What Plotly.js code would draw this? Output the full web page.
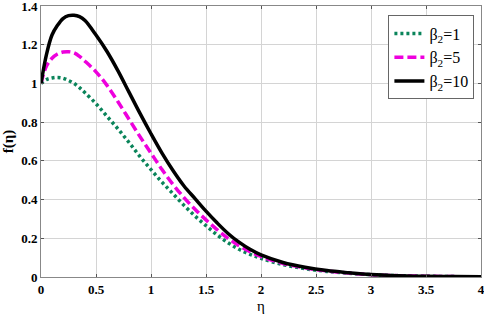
<!DOCTYPE html>
<html>
<head>
<meta charset="utf-8">
<script src="https://cdn.plot.ly/plotly-3.0.1.min.js"></script>
<style>html,body{margin:0;padding:0;background:#fff;}#chart{width:484px;height:318px;}</style>
</head>
<body>
<div id="chart"></div>
<script>
const eta = [0, 0.05, 0.1, 0.15, 0.2, 0.25, 0.3, 0.35, 0.4, 0.5, 0.6, 0.7, 0.8, 0.9, 1.0, 1.1, 1.2, 1.3, 1.4, 1.5, 1.6, 1.7, 1.8, 1.9, 2.0, 2.2, 2.4, 2.6, 2.8, 3.0, 3.25, 3.5, 3.75, 4.0];
const f_b1 = [1.0, 1.02, 1.028, 1.031, 1.027, 1.015, 1.0, 0.978, 0.952, 0.895, 0.83, 0.765, 0.695, 0.622, 0.555, 0.49, 0.43, 0.37, 0.315, 0.265, 0.218, 0.177, 0.143, 0.117, 0.096, 0.064, 0.043, 0.029, 0.019, 0.012, 0.007, 0.004, 0.002, 0.001];
const f_b5 = [1.0, 1.09, 1.13, 1.152, 1.162, 1.164, 1.158, 1.14, 1.115, 1.06, 0.99, 0.905, 0.815, 0.725, 0.64, 0.555, 0.478, 0.41, 0.35, 0.295, 0.245, 0.2, 0.162, 0.131, 0.106, 0.07, 0.047, 0.031, 0.02, 0.012, 0.007, 0.004, 0.002, 0.001];
const f_b10 = [1.0, 1.15, 1.25, 1.30, 1.335, 1.35, 1.352, 1.345, 1.325, 1.25, 1.165, 1.065, 0.955, 0.845, 0.74, 0.64, 0.55, 0.47, 0.405, 0.34, 0.28, 0.225, 0.18, 0.143, 0.114, 0.075, 0.05, 0.033, 0.022, 0.013, 0.007, 0.004, 0.002, 0.001];
const names = ['β<sub>2</sub>=1', 'β<sub>2</sub>=5', 'β<sub>2</sub>=10'];
const xTicks = [0, 0.5, 1, 1.5, 2, 2.5, 3, 3.5, 4];
const yTicks = [0, 0.2, 0.4, 0.6, 0.8, 1, 1.2, 1.4];

const serif = 'Liberation Serif, Times New Roman, serif';
const traces = [
  {x: eta, y: f_b1, name: names[0], mode: 'lines', line: {color: '#0a845a', width: 3.5, dash: '3px,3px', shape: 'spline'}},
  {x: eta, y: f_b5, name: names[1], mode: 'lines', line: {color: '#ee00dd', width: 3.5, dash: '9px,4px', shape: 'spline'}},
  {x: eta, y: f_b10, name: names[2], mode: 'lines', line: {color: '#000000', width: 3.5, shape: 'spline'}}
];
const tickFont = {family: serif, size: 13, color: '#000', weight: 'bold'};
const layout = {
  width: 484, height: 318,
  font: {family: serif, color: '#000'},
  margin: {l: 41, r: 3, t: 6, b: 41},
  paper_bgcolor: '#fff', plot_bgcolor: '#fff',
  showlegend: true,
  xaxis: {
    range: [0, 4], tickvals: xTicks, ticktext: xTicks.map(String),
    showgrid: true, gridcolor: '#d4d4d4', gridwidth: 1,
    showline: true, linecolor: '#888', linewidth: 1, mirror: 'ticks',
    ticks: 'inside', ticklen: 3, tickcolor: '#555',
    zeroline: false, tickfont: tickFont, ticklabeloverflow: 'allow',
    title: {text: 'η', font: {family: serif, size: 15, color: '#000'}, standoff: 4}
  },
  yaxis: {
    range: [0, 1.4], tickvals: yTicks, ticktext: yTicks.map(String),
    showgrid: true, gridcolor: '#d4d4d4', gridwidth: 1,
    showline: true, linecolor: '#888', linewidth: 1, mirror: 'ticks',
    ticks: 'inside', ticklen: 3, tickcolor: '#555',
    zeroline: false, tickfont: tickFont, ticklabeloverflow: 'allow',
    title: {text: 'f(η)', font: {family: serif, size: 15, color: '#000', weight: 'bold'}, standoff: 6}
  },
  legend: {
    x: 0.985, y: 0.965, xanchor: 'right', yanchor: 'top',
    bgcolor: '#fff', bordercolor: '#666', borderwidth: 1,
    font: {family: serif, size: 16, color: '#000'},
    tracegroupgap: 0
  }
};
Plotly.newPlot('chart', traces, layout, {staticPlot: true, displayModeBar: false});
</script>
</body>
</html>
